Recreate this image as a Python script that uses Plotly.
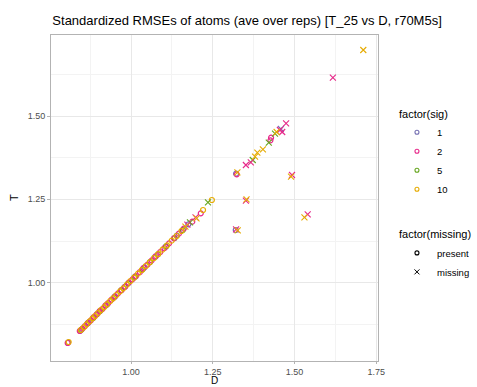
import plotly.graph_objects as go

# ---- data ----
sig_levels = ["1", "2", "5", "10"]
sig_colors = ["#7570B3", "#E7298A", "#66A61E", "#E6AB02"]

# sig = 1
d_sig1_present = [0.807, 0.845, 0.870, 0.896, 0.923, 0.951, 0.980, 1.010, 1.041, 1.073, 1.106, 1.140, 1.175, 1.321, 1.320]
t_sig1_present = [0.820, 0.856, 0.881, 0.906, 0.932, 0.959, 0.987, 1.016, 1.046, 1.077, 1.108, 1.141, 1.175, 1.327, 1.158]
d_sig1_missing = [1.458]
t_sig1_missing = [1.461]

# sig = 2
d_sig2_present = [0.806, 0.843, 0.851, 0.859, 0.868, 0.877, 0.886, 0.894, 0.903, 0.912, 0.921, 0.930, 0.940, 0.950,
                  0.960, 0.971, 0.982, 0.993, 1.004, 1.015, 1.027, 1.038, 1.050, 1.063, 1.076, 1.089, 1.102, 1.116,
                  1.131, 1.146, 1.161, 1.187, 1.213, 1.428, 1.426, 1.323]
t_sig2_present = [0.819, 0.855, 0.862, 0.870, 0.879, 0.887, 0.897, 0.904, 0.914, 0.921, 0.931, 0.939, 0.949, 0.958,
                  0.968, 0.978, 0.988, 1.000, 1.010, 1.020, 1.032, 1.044, 1.054, 1.067, 1.080, 1.092, 1.104, 1.118,
                  1.133, 1.147, 1.162, 1.183, 1.208, 1.435, 1.427, 1.325]
d_sig2_missing = [1.172, 1.197, 1.617, 1.474, 1.455, 1.462, 1.366, 1.351, 1.351, 1.321, 1.492, 1.540]
t_sig2_missing = [1.174, 1.196, 1.615, 1.478, 1.458, 1.452, 1.361, 1.353, 1.246, 1.160, 1.323, 1.205]

# sig = 5
d_sig5_present = [0.848, 0.866, 0.884, 0.905, 0.927, 0.948, 0.969, 0.991, 1.012, 1.035, 1.058, 1.082, 1.107, 1.133, 1.158]
t_sig5_present = [0.859, 0.877, 0.894, 0.915, 0.935, 0.956, 0.977, 0.998, 1.018, 1.040, 1.062, 1.085, 1.109, 1.134, 1.158]
d_sig5_missing = [1.235, 1.421, 1.440, 1.372, 1.180]
t_sig5_missing = [1.241, 1.420, 1.447, 1.368, 1.181]

# sig = 10
d_sig10_present = [0.809, 0.846, 0.855, 0.864, 0.873, 0.882, 0.890, 0.899, 0.908, 0.917, 0.926, 0.936, 0.945, 0.955,
                   0.966, 0.976, 0.987, 0.998, 1.009, 1.021, 1.033, 1.045, 1.057, 1.070, 1.083, 1.096, 1.110, 1.124,
                   1.139, 1.154, 1.220, 1.247]
t_sig10_present = [0.822, 0.858, 0.866, 0.875, 0.884, 0.893, 0.900, 0.909, 0.918, 0.926, 0.935, 0.945, 0.953, 0.963,
                   0.974, 0.983, 0.994, 1.005, 1.015, 1.027, 1.038, 1.050, 1.061, 1.074, 1.086, 1.099, 1.112, 1.126,
                   1.140, 1.155, 1.218, 1.248]
d_sig10_missing = [1.200, 1.710, 1.445, 1.403, 1.386, 1.379, 1.325, 1.353, 1.326, 1.489, 1.530, 1.166]
t_sig10_missing = [1.193, 1.698, 1.452, 1.400, 1.390, 1.378, 1.331, 1.250, 1.157, 1.318, 1.196, 1.168]

present_d = [d_sig1_present, d_sig2_present, d_sig5_present, d_sig10_present]
present_t = [t_sig1_present, t_sig2_present, t_sig5_present, t_sig10_present]
missing_d = [d_sig1_missing, d_sig2_missing, d_sig5_missing, d_sig10_missing]
missing_t = [t_sig1_missing, t_sig2_missing, t_sig5_missing, t_sig10_missing]

missing_labels = ["present", "missing"]
x_ticks = [1.00, 1.25, 1.50, 1.75]
y_ticks = [1.00, 1.25, 1.50]

FONT = "Liberation Sans, Arial, sans-serif"
MSIZE = 5

fig = go.Figure()

draw_order = [0, 2, 1, 3]
for i in draw_order:
    fig.add_trace(go.Scatter(
        x=present_d[i], y=present_t[i], mode="markers", showlegend=False,
        marker=dict(symbol="circle-open", size=MSIZE, color=sig_colors[i], line=dict(width=1.2, color=sig_colors[i]))))
for i in draw_order:
    fig.add_trace(go.Scatter(
        x=missing_d[i], y=missing_t[i], mode="markers", showlegend=False,
        marker=dict(symbol="x-thin-open", size=MSIZE + 1, color=sig_colors[i], line=dict(width=1.1, color=sig_colors[i]))))

# legend entries
for i, lab in enumerate(sig_levels):
    fig.add_trace(go.Scatter(
        x=[None], y=[None], mode="markers", name=lab, legend="legend",
        marker=dict(symbol="circle-open", size=4, color=sig_colors[i], line=dict(width=1.1, color=sig_colors[i]))))
fig.add_trace(go.Scatter(
    x=[None], y=[None], mode="markers", name=missing_labels[0], legend="legend2",
    marker=dict(symbol="circle-open", size=4, color="black", line=dict(width=1.1, color="black"))))
fig.add_trace(go.Scatter(
    x=[None], y=[None], mode="markers", name=missing_labels[1], legend="legend2",
    marker=dict(symbol="x-thin-open", size=5, color="black", line=dict(width=1, color="black"))))

axis_common = dict(
    automargin=False,
    showgrid=True, gridcolor="#e8e8e8", gridwidth=0.8,
    minor=dict(showgrid=True, gridcolor="#f3f3f3", gridwidth=0.6, dtick=0.125),
    ticks="outside", ticklen=3, tickcolor="#b3b3b3", tickwidth=1,
    showline=True, linecolor="#b3b3b3", linewidth=1, mirror=True,
    zeroline=False, tickformat=".2f",
    tickfont=dict(family=FONT, size=9, color="#4d4d4d"),
)

fig.update_layout(
    width=477, height=387,
    margin=dict(l=51, r=99, t=35, b=26, autoexpand=False),
    paper_bgcolor="white", plot_bgcolor="white",
    font=dict(family=FONT, color="black"),
    title=dict(text="Standardized RMSEs of atoms (ave over reps) [T_25 vs D, r70M5s]",
               x=0.518, xref="container", xanchor="center", y=0.947, yref="container", yanchor="middle",
               font=dict(family=FONT, size=13, color="black")),
    xaxis=dict(axis_common, range=[0.755, 1.755], tickvals=x_ticks, ticklen=2),
    yaxis=dict(axis_common, range=[0.765, 1.743], tickvals=y_ticks),
    legend=dict(title=dict(text="factor(sig)", font=dict(size=11)), x=1.058, xanchor="left", y=0.79, yanchor="top",
                font=dict(size=9.5), bgcolor="rgba(0,0,0,0)", tracegroupgap=0, itemwidth=30),
    legend2=dict(title=dict(text="factor(missing)", font=dict(size=11)), x=1.058, xanchor="left", y=0.42, yanchor="top",
                 font=dict(size=9.5), bgcolor="rgba(0,0,0,0)", itemwidth=30),
    annotations=[
        dict(text="D", xref="paper", yref="paper", x=0.5, y=-0.06, xanchor="center", yanchor="middle",
             showarrow=False, borderpad=0, font=dict(family=FONT, size=10, color="black")),
        dict(text="T", xref="paper", yref="paper", x=-0.113, y=0.5, xanchor="center", yanchor="middle",
             textangle=-90, showarrow=False, font=dict(family=FONT, size=11, color="black")),
    ],
)

fig.write_html("out.html", config={"displayModeBar": False},
               post_script="document.body.style.margin='0';")
